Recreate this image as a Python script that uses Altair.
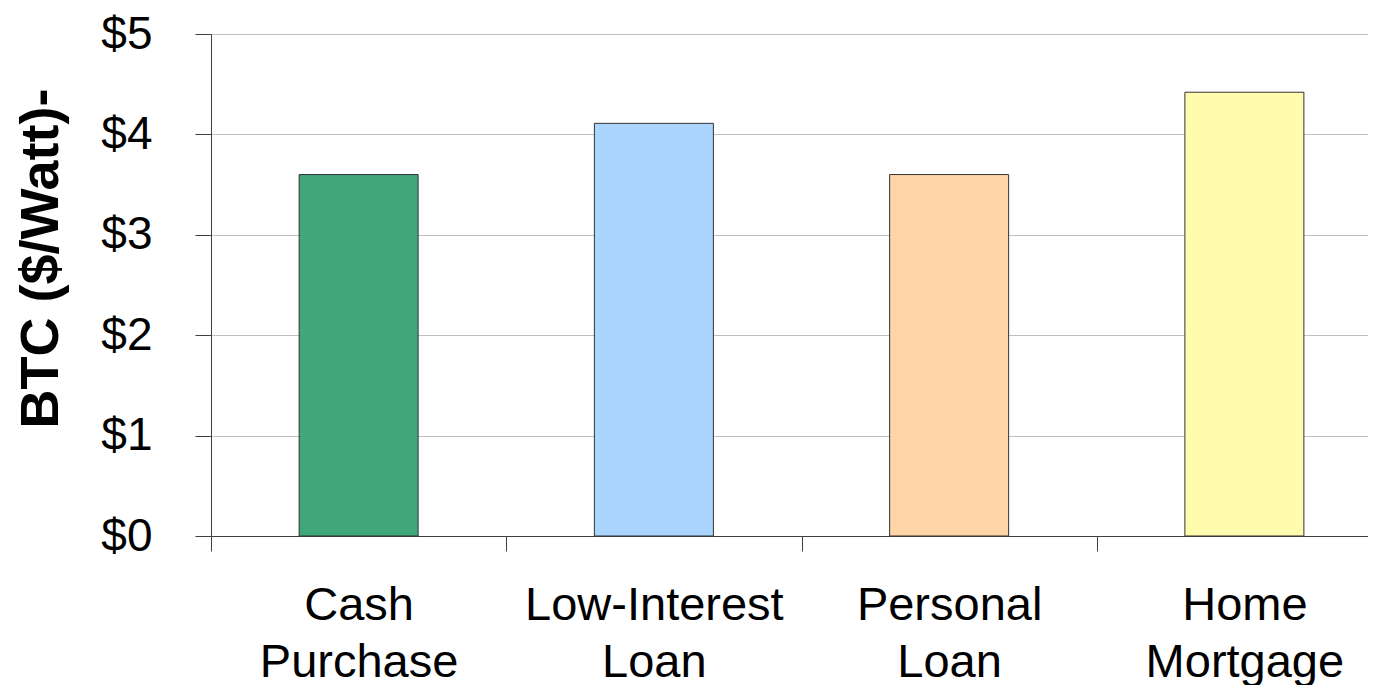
import altair as alt
import pandas as pd

categories = ["Cash Purchase", "Low-Interest Loan", "Personal Loan", "Home Mortgage"]
values = [3.60, 4.11, 3.60, 4.42]
colors = ["#3fa77a", "#aad5ff", "#ffd5a8", "#fffcad"]
y_ticks = [0, 1, 2, 3, 4, 5]

df = pd.DataFrame({"cat": categories, "val": values, "col": colors})

FONT = "Liberation Sans"

chart = alt.Chart(df).mark_bar(size=119, stroke="#333333", strokeWidth=1).encode(
    x=alt.X(
        "cat:N",
        sort=categories,
        scale=alt.Scale(range=[0, 1181], paddingInner=0, paddingOuter=0),
        axis=alt.Axis(
            title=None,
            labelAngle=0,
            labelFont=FONT,
            labelFontSize=47,
            labelColor="#000000",
            labelLineHeight=57,
            labelPadding=31,
            labelBaseline="top",
            labelLimit=0,
            labelExpr="split(datum.label, ' ')",
            tickBand="extent",
            tickSize=15,
            tickColor="#404040",
            tickWidth=1,
            domainColor="#404040",
            domainWidth=1,
            grid=False,
        ),
    ),
    y=alt.Y(
        "val:Q",
        scale=alt.Scale(domain=[0, 5], nice=False),
        axis=alt.Axis(
            title="BTC  ($/Watt)-",
            titleFont=FONT,
            titleFontSize=54,
            titleFontWeight="bold",
            titleColor="#000000",
            titleAngle=270,
            titleAlign="center",
            titleBaseline="alphabetic",
            titleX=-154,
            titleY=224,
            values=y_ticks,
            labelExpr="'$' + datum.value",
            labelFont=FONT,
            labelFontSize=46,
            labelColor="#000000",
            labelPadding=43,
            tickSize=16,
            tickColor="#404040",
            tickWidth=1,
            domainColor="#404040",
            domainWidth=1,
            grid=True,
            gridColor="#c0c0c0",
            gridWidth=1,
        ),
    ),
    color=alt.Color("col:N", scale=None, legend=None),
).properties(
    width=1157,
    height=502,
    autosize=alt.AutoSizeParams(type="none"),
    padding={"left": 203, "top": 26, "right": 0, "bottom": 149},
).configure_view(stroke=None)

chart.save("out.html", embed_options={"renderer": "svg", "actions": False})
